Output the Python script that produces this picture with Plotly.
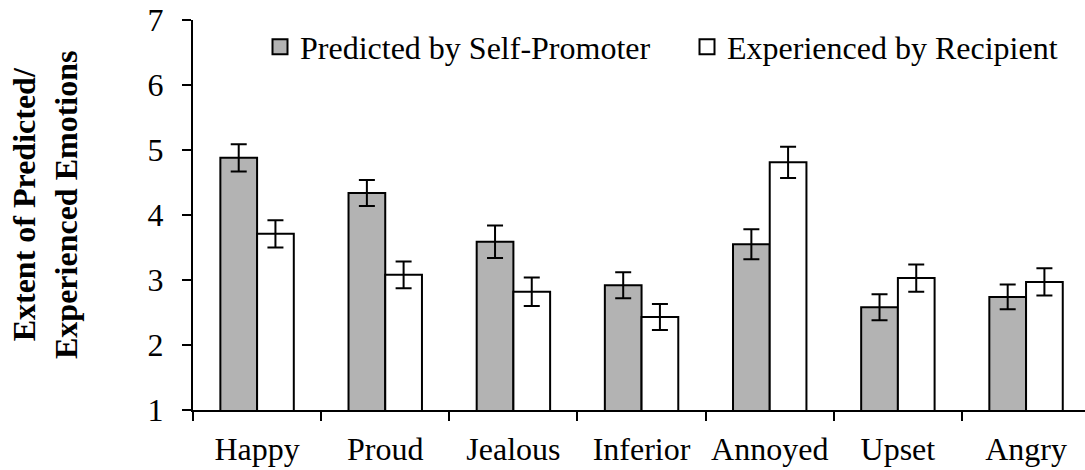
import plotly.graph_objects as go

emotions = ["Happy", "Proud", "Jealous", "Inferior", "Annoyed", "Upset", "Angry"]
predicted = [4.88, 4.34, 3.59, 2.92, 3.55, 2.58, 2.74]
predicted_err = [0.21, 0.20, 0.25, 0.20, 0.23, 0.20, 0.19]
experienced = [3.71, 3.08, 2.82, 2.43, 4.81, 3.03, 2.97]
experienced_err = [0.21, 0.205, 0.22, 0.20, 0.24, 0.21, 0.21]

FONT = "Liberation Serif, Times New Roman, serif"
FS = 32
W, H = 1085, 470
ML, MB, MT = 193, 60, 20

fig = go.Figure()

bar_line = dict(color="black", width=2)
err_style = dict(type="data", thickness=2, width=8, color="black")

fig.add_trace(go.Bar(
    x=emotions, y=predicted, name="Predicted by Self-Promoter",
    marker=dict(color="#b3b3b3", line=bar_line),
    error_y=dict(array=predicted_err, **err_style),
    showlegend=False,
))
fig.add_trace(go.Bar(
    x=emotions, y=experienced, name="Experienced by Recipient",
    marker=dict(color="white", line=bar_line),
    error_y=dict(array=experienced_err, **err_style),
    showlegend=False,
))

# legend keys (square swatches)
fig.add_trace(go.Scatter(
    x=[None], y=[None], mode="markers", name="Predicted by Self-Promoter",
    marker=dict(symbol="square", size=15, color="#b3b3b3", line=dict(color="black", width=2)),
    legend="legend",
))
fig.add_trace(go.Scatter(
    x=[None], y=[None], mode="markers", name="Experienced by Recipient",
    marker=dict(symbol="square", size=15, color="white", line=dict(color="black", width=2)),
    legend="legend2",
))

plot_w = W - ML
plot_h = H - MT - MB


def px_to_paper_x(px):
    return (px - ML) / plot_w


def px_to_paper_y(py):
    return 1 - (py - MT) / plot_h


legend_common = dict(
    font=dict(family=FONT, size=FS, color="black"),
    bgcolor="rgba(0,0,0,0)", borderwidth=0,
    xanchor="left", yanchor="middle",
    y=px_to_paper_y(47), orientation="h",
)

fig.update_layout(
    width=W, height=H,
    margin=dict(l=ML, r=0, t=MT, b=MB, autoexpand=False),
    paper_bgcolor="white", plot_bgcolor="white",
    barmode="group", bargap=0.427, bargroupgap=0,
    font=dict(family=FONT, size=FS, color="black"),
    legend=dict(x=px_to_paper_x(260), **legend_common),
    legend2=dict(x=px_to_paper_x(687), **legend_common),
    xaxis=dict(
        type="category", range=[-0.5, 6.46],
        showline=True, linecolor="black", linewidth=2,
        ticks="outside", ticklen=9, tickwidth=2, tickcolor="black",
        tickson="boundaries", showgrid=False, zeroline=False,
        tickfont=dict(family=FONT, size=FS, color="black"),
        ticklabelstandoff=10,
    ),
    yaxis=dict(
        range=[1, 7], dtick=1, tick0=1,
        showline=True, linecolor="black", linewidth=2,
        ticks="outside", ticklen=9, tickwidth=2, tickcolor="black",
        showgrid=False, zeroline=False,
        tickfont=dict(family=FONT, size=FS, color="black"),
        ticklabelstandoff=12,
    ),
    annotations=[dict(
        text="<b>Extent of Predicted/<br>Experienced Emotions</b>",
        xref="paper", yref="paper",
        x=px_to_paper_x(45), y=px_to_paper_y(205),
        xanchor="center", yanchor="middle",
        textangle=-90, showarrow=False,
        font=dict(family=FONT, size=FS, color="black"),
    )],
)

fig.write_html("out.html")
